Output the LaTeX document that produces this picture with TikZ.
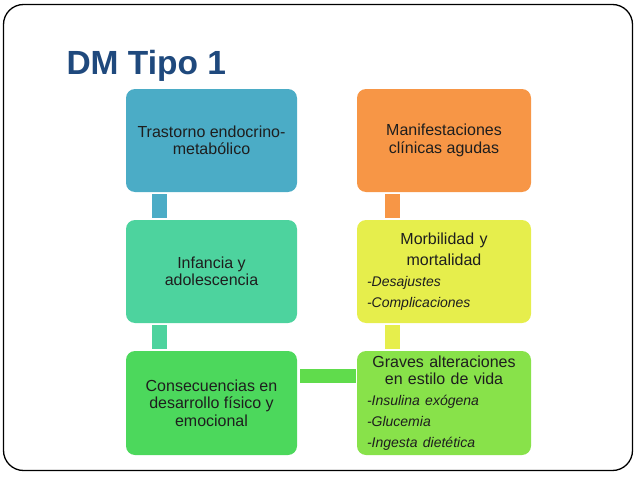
\documentclass[tikz,border=0pt]{standalone}
\usepackage{fontspec}
\setmainfont{Liberation Sans}
\usepackage{xcolor}
\usetikzlibrary{positioning,calc}

\definecolor{titleblue}{RGB}{31,73,125}
\definecolor{txtgray}{RGB}{30,30,30}
\definecolor{tealbox}{RGB}{75,172,198}
\definecolor{mintbox}{RGB}{77,211,158}
\definecolor{greenbox}{RGB}{76,216,92}
\definecolor{orangebox}{RGB}{247,150,70}
\definecolor{yellowbox}{RGB}{230,238,76}
\definecolor{limebox}{RGB}{136,226,74}
\definecolor{linkgreen}{RGB}{96,220,76}

\tikzset{
  stagebox/.style={rectangle,rounded corners=9pt,minimum width=171pt,minimum height=103pt,
    inner sep=0pt,text=txtgray,align=center,font=\fontsize{16}{17.5}\selectfont},
  listbox/.style={stagebox,minimum width=174pt,text width=154pt,align=left},
  link/.style={line width=14.5pt}
}
\newcommand{\itemfont}{\itshape\fontsize{14}{21}\selectfont}

\begin{document}
\begin{tikzpicture}[x=1pt,y=-1pt]
        \useasboundingbox (0,0) rectangle (638,479);
        \draw[line width=1.3pt,rounded corners=20pt] (3.5,4.5) rectangle (632.5,470.5);
        \node[anchor=base west,text=titleblue,font=\bfseries\fontsize{33.5}{36}\selectfont] (title) at (63,74) {DM Tipo 1};

        \node[stagebox,fill=tealbox] (trast) at (211.5,140.5) {Trastorno endocrino-\\metabólico};
        \node[stagebox,fill=mintbox] (infan) at (211.5,271.5) {Infancia y\\adolescencia};
        \node[stagebox,fill=greenbox,minimum height=104pt] (conse) at (211.5,403) {Consecuencias en\\desarrollo físico y\\emocional};
        \node[stagebox,fill=orangebox,minimum width=174pt] (manif) at (444,140.5) {Manifestaciones\\clínicas agudas};
        \node[listbox,fill=yellowbox] (morbi) at (444,271.5) {\vspace*{3pt}{\centering Morbilidad y\\mortalidad\par}
          {\itemfont -Desajustes\\-Complicaciones\par}};
        \node[listbox,fill=limebox,minimum height=104pt] (graves) at (444,403) {{\centering Graves alteraciones\\en estilo de vida\par}
          {\itemfont -Insulina exógena\\-Glucemia\\-Ingesta dietética\par}};

        \draw[link,tealbox] ([shift={(33.7,2)}]trast.south west) -- ([shift={(33.7,-2)}]infan.north west);
        \draw[link,mintbox] ([shift={(33.7,2)}]infan.south west) -- ([shift={(33.7,-2)}]conse.north west);
        \draw[link,linkgreen] ([shift={(3,25)}]conse.north east) -- ([shift={(-1,25)}]graves.north west);
        \draw[link,orangebox] ([shift={(35.5,2)}]manif.south west) -- ([shift={(35.5,-2)}]morbi.north west);
        \draw[link,yellowbox] ([shift={(35.5,2)}]morbi.south west) -- ([shift={(35.5,-2)}]graves.north west);
\end{tikzpicture}
\end{document}
